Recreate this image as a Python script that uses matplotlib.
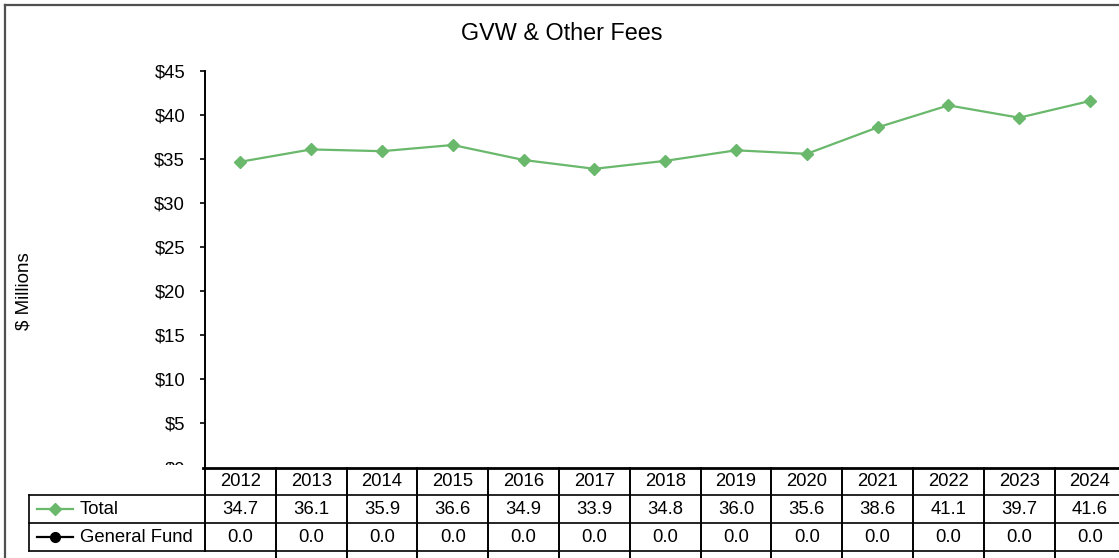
import matplotlib
matplotlib.use("Agg")
import matplotlib.pyplot as plt
from matplotlib.lines import Line2D
from matplotlib.patches import Rectangle
from matplotlib.transforms import blended_transform_factory

plt.rcParams['font.family'] = ['Liberation Sans', 'DejaVu Sans']

years = ["2012", "2013", "2014", "2015", "2016", "2017", "2018",
         "2019", "2020", "2021", "2022", "2023", "2024"]
total = [34.7, 36.1, 35.9, 36.6, 34.9, 33.9, 34.8, 36.0, 35.6, 38.6, 41.1, 39.7, 41.6]
general_fund = [0.0] * 13
yticks = [0, 5, 10, 15, 20, 25, 30, 35, 40, 45]
ytick_labels = [f"${v}" for v in yticks]

W, H = 1119, 558
fig = plt.figure(figsize=(W / 100, H / 100), dpi=100)
fig.patch.set_facecolor('white')

def fx(x):
    return x / W

def fy(y):
    return 1 - y / H

ax_left, ax_right = 205, 205 + 13 * 70.8
ax_top, ax_bot = 71, 467.5
ax = fig.add_axes([fx(ax_left), fy(ax_bot), fx(ax_right - ax_left), (ax_bot - ax_top) / H])
ax.set_facecolor('none')

GREEN = '#69b86b'
xs = list(range(len(years)))
ax.plot(xs, total, color=GREEN, lw=1.6, marker='D', markersize=6.5,
        markeredgecolor=GREEN, markerfacecolor=GREEN, zorder=3)

ax.set_xlim(-0.5, len(years) - 0.5)
ax.set_ylim(0, 45)
ax.set_yticks(yticks)
ax.set_yticklabels(ytick_labels, fontsize=13.3)
ax.tick_params(axis='y', length=3.8, width=1.2, pad=10.5, direction='out', colors='black')
ax.set_xticks([])
for s in ['top', 'right', 'bottom']:
    ax.spines[s].set_visible(False)
ax.spines['left'].set_linewidth(1.4)

# Title and y label
fig.text(fx(562), fy(33), "GVW & Other Fees", fontsize=16.8, ha='center', va='center')
fig.text(fx(24), fy(291), "$ Millions", fontsize=13.5, ha='center', va='center', rotation=90)

# Outer chart border
fig.add_artist(Line2D([fx(5), fx(1130)], [fy(5), fy(5)], color='#505050', lw=1.6))
fig.add_artist(Line2D([fx(5), fx(5)], [fy(5), fy(570)], color='#505050', lw=1.6))

# Cover bottom of $0 label (hidden by the data table)
fig.add_artist(Rectangle((fx(100), fy(495)), fx(104), (495 - 464.5) / H,
                         facecolor='white', edgecolor='none', zorder=5))

# Data table
bt = blended_transform_factory(ax.transData, fig.transFigure)
y_head_top, y_r1, y_r2, y_r3 = 467.5, 495, 523, 551
xr = len(years) - 0.5

# Horizontal lines
fig.add_artist(Line2D([-0.53, xr + 0.5], [fy(y_head_top), fy(y_head_top)], transform=bt,
                      color='black', lw=2.0, zorder=6))
for yy in (y_r1, y_r2, y_r3):
    fig.add_artist(Line2D([fx(29), fx(1130)], [fy(yy), fy(yy)], color='black', lw=1.2, zorder=6))

# Vertical separators
fig.add_artist(Line2D([-0.5, -0.5], [fy(y_head_top), fy(y_r3)], transform=bt,
                      color='black', lw=1.4, zorder=6))
for i in range(1, len(years) + 1):
    xb = i - 0.5
    fig.add_artist(Line2D([xb, xb], [fy(y_head_top), fy(570)], transform=bt,
                          color='black', lw=1.4, zorder=6))
fig.add_artist(Line2D([fx(29), fx(29)], [fy(y_r1), fy(y_r3)], color='black', lw=1.2, zorder=6))

# Cell texts
for i, yr in enumerate(years):
    fig.text(i, fy((y_head_top + y_r1) / 2), yr, transform=bt, fontsize=13.3,
             ha='center', va='center', zorder=7)
    fig.text(i, fy((y_r1 + y_r2) / 2), f"{total[i]:.1f}", transform=bt, fontsize=13.3,
             ha='center', va='center', zorder=7)
    fig.text(i, fy((y_r2 + y_r3) / 2), f"{general_fund[i]:.1f}", transform=bt, fontsize=13.3,
             ha='center', va='center', zorder=7)

# Legend keys in table
ry1 = fy((y_r1 + y_r2) / 2)
ry2 = fy((y_r2 + y_r3) / 2)
fig.add_artist(Line2D([fx(37), fx(73)], [ry1, ry1], color=GREEN, lw=1.6, zorder=7))
fig.add_artist(Line2D([fx(55)], [ry1], color=GREEN, marker='D', markersize=6.5, lw=0, zorder=7))
fig.add_artist(Line2D([fx(37), fx(73)], [ry2, ry2], color='black', lw=1.6, zorder=7))
fig.add_artist(Line2D([fx(55)], [ry2], color='black', marker='o', markersize=7, lw=0, zorder=7))
fig.text(fx(80), ry1, "Total", fontsize=13.3, ha='left', va='center', zorder=7)
fig.text(fx(80), ry2, "General Fund", fontsize=13.3, ha='left', va='center', zorder=7)

fig.savefig("out.png", dpi=100)
